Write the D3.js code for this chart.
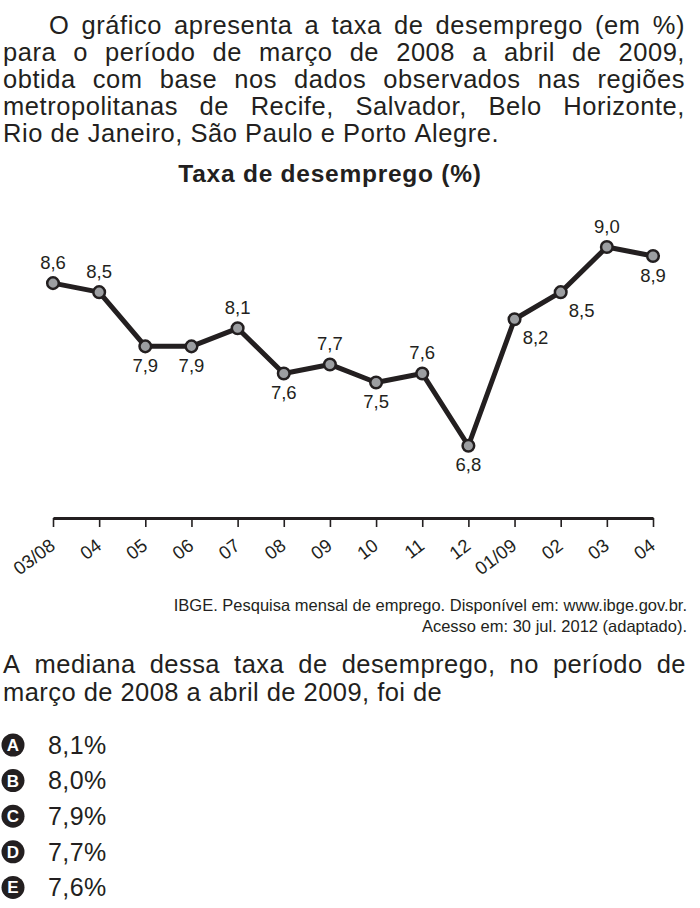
<!DOCTYPE html>
<html>
<head>
<meta charset="utf-8">
<script src="https://cdn.jsdelivr.net/npm/d3@7"></script>
<style>
  html, body { margin: 0; padding: 0; background: #fff; }
  svg text { font-family: "Liberation Sans", Arial, sans-serif; fill: #231f20; }
</style>
</head>
<body>
<svg id="chart" width="700" height="908"></svg>
<script>
// ---- data ----
const months = ["03/08","04","05","06","07","08","09","10","11","12","01/09","02","03","04"];
const rates = [8.6, 8.5, 7.9, 7.9, 8.1, 7.6, 7.7, 7.5, 7.6, 6.8, 8.2, 8.5, 9.0, 8.9];
const labelSide = ["above","above","below","below","above","below","above","below","above","below","belowRight","belowRight","above","below"];
const introLines = [
  "O gráfico apresenta a taxa de desemprego (em %)",
  "para o período de março de 2008 a abril de 2009,",
  "obtida com base nos dados observados nas regiões",
  "metropolitanas de Recife, Salvador, Belo Horizonte,",
  "Rio de Janeiro, São Paulo e Porto Alegre."
];
const chartTitle = "Taxa de desemprego (%)";
const sourceLines = [
  "IBGE. Pesquisa mensal de emprego. Disponível em: www.ibge.gov.br.",
  "Acesso em: 30 jul. 2012 (adaptado)."
];
const questionLines = [
  "A mediana dessa taxa de desemprego, no período de",
  "março de 2008 a abril de 2009, foi de"
];
const optionLetters = ["A","B","C","D","E"];
const optionValues = ["8,1%","8,0%","7,9%","7,7%","7,6%"];

const ink = "#231f20";
const svg = d3.select("#chart");

// justified line helper
function textLine(g, str, x0, x1, y, size, opts = {}) {
  const words = str.split(" ");
  const ws = [];
  const tmp = words.map(w => {
    const t = g.append("text").attr("y", y).attr("font-size", size)
      .attr("letter-spacing", opts.ls || 0)
      .attr("font-weight", opts.weight || "normal").text(w);
    ws.push(t.node().getComputedTextLength());
    return t;
  });
  const total = d3.sum(ws);
  let gap;
  if (opts.justify) gap = (x1 - x0 - total) / (words.length - 1);
  else {
    const sp = g.append("text").attr("font-size", size).attr("letter-spacing", opts.ls || 0).text("a a");
    const sp2 = g.append("text").attr("font-size", size).attr("letter-spacing", opts.ls || 0).text("aa");
    gap = sp.node().getComputedTextLength() - sp2.node().getComputedTextLength();
    sp.remove(); sp2.remove();
  }
  let x = x0;
  tmp.forEach((t, i) => { t.attr("x", x); x += ws[i] + gap; });
}

// intro paragraph
const intro = svg.append("g");
const introY = [34, 61, 88, 115, 142];
introLines.forEach((l, i) => {
  textLine(intro, l, i === 0 ? 49 : 3, 685, introY[i], 25.5, { justify: i < introLines.length - 1, ls: 0.55 });
});

// title
svg.append("text").attr("x", 330).attr("y", 182).attr("text-anchor", "middle")
  .attr("font-size", 24.5).attr("font-weight", "bold").attr("letter-spacing", 0.75)
  .text(chartTitle);

// scales
const x = d3.scalePoint().domain(d3.range(months.length)).range([53, 653]);
const y = d3.scaleLinear().domain([6, 9]).range([518, 247]);

// axis
const axisG = svg.append("g").attr("transform", `translate(0,${y(6)})`)
  .call(d3.axisBottom(x).tickSize(9).tickSizeOuter(0).tickFormat(i => months[i]));
axisG.select(".domain").attr("stroke", ink).attr("stroke-width", 3);
axisG.selectAll(".tick line").attr("stroke", ink).attr("stroke-width", 1.6);
axisG.selectAll(".tick text")
  .attr("font-family", "Liberation Sans, Arial, sans-serif")
  .attr("font-size", 18.5).attr("fill", ink)
  .attr("text-anchor", "end")
  .attr("x", 0).attr("y", 0).attr("dy", 0)
  .attr("transform", "translate(3,30) rotate(-37)");

// line
const line = d3.line().x((d, i) => x(i)).y(d => y(d));
svg.append("path").datum(rates).attr("d", line)
  .attr("fill", "none").attr("stroke", ink).attr("stroke-width", 5)
  .attr("stroke-linejoin", "round");

// points
svg.append("g").selectAll("circle").data(rates).join("circle")
  .attr("cx", (d, i) => x(i)).attr("cy", d => y(d)).attr("r", 5.8)
  .attr("fill", "#9c9ea1").attr("stroke", ink).attr("stroke-width", 2.5);

// value labels
const off = { above: [0, -14.5], below: [0, 25.5], belowRight: [21, 24.5] };
svg.append("g").selectAll("text").data(rates).join("text")
  .attr("x", (d, i) => x(i) + off[labelSide[i]][0])
  .attr("y", (d, i) => y(d) + off[labelSide[i]][1])
  .attr("text-anchor", "middle").attr("font-size", 18.5)
  .text(d => d.toFixed(1).replace(".", ","));

// source
sourceLines.forEach((l, i) => {
  svg.append("text").attr("x", 687).attr("y", 611 + i * 20.5).attr("text-anchor", "end")
    .attr("font-size", 16.5).text(l);
});

// question
const q = svg.append("g");
questionLines.forEach((l, i) => {
  textLine(q, l, 3, 686, 673 + i * 27.5, 25.5, { justify: i < questionLines.length - 1, ls: 0.45 });
});

// options
const optG = svg.append("g").selectAll("g").data(optionValues).join("g")
  .attr("transform", (d, i) => `translate(0,${745 + i * 35.6})`);
optG.append("circle").attr("cx", 13).attr("cy", 0).attr("r", 11.5).attr("fill", ink);
optG.append("text").attr("x", 13).attr("y", 6).attr("text-anchor", "middle")
  .attr("font-size", 17).attr("font-weight", "bold").style("fill", "#fff")
  .text((d, i) => optionLetters[i]);
optG.append("text").attr("x", 48).attr("y", 8.8).attr("font-size", 25)
  .attr("letter-spacing", 0.4).text(d => d);
</script>
</body>
</html>
